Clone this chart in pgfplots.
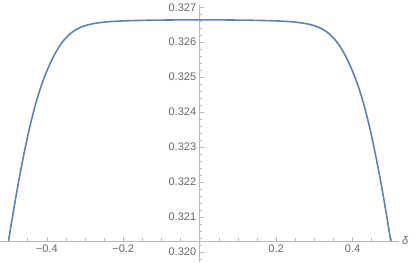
\documentclass[border=0pt]{standalone}
\usepackage{pgfplots}
\pgfplotsset{compat=1.18}
\usepackage{fontspec}
\setmainfont{Liberation Sans}
\definecolor{mblue}{rgb}{0.368417,0.506779,0.709798}
\definecolor{axgray}{gray}{0.72}
\definecolor{lblgray}{gray}{0.4}
\begin{document}
\begin{tikzpicture}
\begin{axis}[
  scale only axis, width=399pt, height=236.25pt,
  xmin=-0.5216, xmax=0.5216, ymin=0.32032, ymax=0.32707,
  axis x line=bottom, axis y line=middle,
  axis line style={draw=axgray, line width=0.6pt, -},
  tick style={draw=axgray, line width=0.5pt},
  major tick length=4pt, minor tick length=2.5pt,
  tick align=inside,
  clip=false,
  font=\fontsize{11}{13}\selectfont,
  tick label style={text=lblgray},
  xtick={-0.4,-0.2,0.2,0.4},
  xticklabels={−0.4,−0.2,0.2,0.4},
  minor xtick={-0.5,-0.45,-0.35,-0.3,-0.25,-0.15,-0.1,-0.05,0.05,0.1,0.15,0.25,0.3,0.35,0.45,0.5},
  ytick={0.321,0.322,0.323,0.324,0.325,0.326,0.327},
  yticklabels={0.321,0.322,0.323,0.324,0.325,0.326,0.327},
  minor ytick={0.3204,0.3206,0.3208,0.3212,0.3214,0.3216,0.3218,0.3222,0.3224,0.3226,0.3228,0.3232,0.3234,0.3236,0.3238,0.3242,0.3244,0.3246,0.3248,0.3252,0.3254,0.3256,0.3258,0.3262,0.3264,0.3266,0.3268},
]
\addplot[mblue, line width=1.6pt, smooth] coordinates {
(-0.50,0.32032) (-0.49,0.32099) (-0.48,0.32163) (-0.47,0.32223)
(-0.46,0.32279) (-0.45,0.32331) (-0.44,0.32378) (-0.43,0.32420)
(-0.42,0.32457) (-0.41,0.32489) (-0.40,0.32517) (-0.39,0.32542)
(-0.38,0.32564) (-0.37,0.32583) (-0.36,0.32599) (-0.35,0.326124)
(-0.34,0.32623) (-0.33,0.326314) (-0.32,0.326381) (-0.31,0.326432)
(-0.30,0.326472) (-0.28,0.326527) (-0.26,0.326561) (-0.24,0.326584)
(-0.20,0.326609) (-0.15,0.326624) (-0.10,0.326632) (-0.05,0.326638)
(0.00,0.32664)
(0.05,0.326638) (0.10,0.326632) (0.15,0.326624) (0.20,0.326609)
(0.24,0.326584) (0.26,0.326561) (0.28,0.326527) (0.30,0.326472)
(0.31,0.326432) (0.32,0.326381) (0.33,0.326314) (0.34,0.32623)
(0.35,0.326124) (0.36,0.32599) (0.37,0.32583) (0.38,0.32564)
(0.39,0.32542) (0.40,0.32517) (0.41,0.32489) (0.42,0.32457)
(0.43,0.32420) (0.44,0.32378) (0.45,0.32331) (0.46,0.32279)
(0.47,0.32223) (0.48,0.32163) (0.49,0.32099) (0.50,0.32032)
};
% continuation of the vertical axis below the horizontal one
\draw[axgray, line width=0.6pt] (axis cs:0,0.32032) -- (axis cs:0,0.31972);
\draw[axgray, line width=0.5pt] (axis cs:0,0.3200) -- ([xshift=4pt]axis cs:0,0.3200);
\draw[axgray, line width=0.5pt] (axis cs:0,0.3202) -- ([xshift=2.5pt]axis cs:0,0.3202);
\draw[axgray, line width=0.5pt] (axis cs:0,0.3198) -- ([xshift=2.5pt]axis cs:0,0.3198);
\node[anchor=east, text=lblgray, inner sep=0.333em] at (axis cs:0,0.3200) {0.320};
\node[anchor=west, text=lblgray, inner sep=3pt] at (axis cs:0.5216,0.32032) {\textit{δ}};
\path (axis cs:-0.5216,0.31972) -- ([xshift=415pt,yshift=262pt]axis cs:-0.5216,0.31972);
\end{axis}
\end{tikzpicture}
\end{document}
